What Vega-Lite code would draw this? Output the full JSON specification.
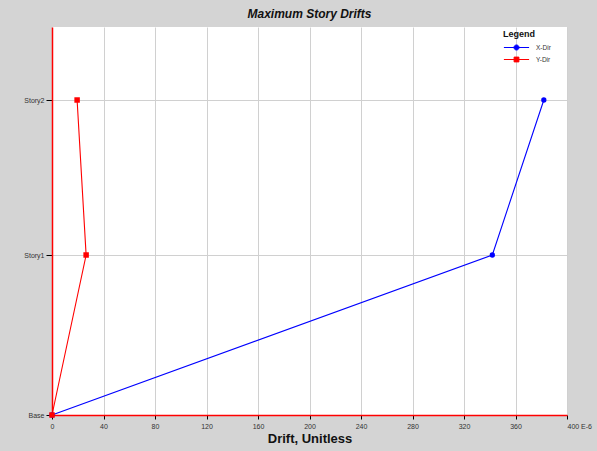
{
  "$schema": "https://vega.github.io/schema/vega-lite/v6.json",
  "width": 515,
  "height": 388,
  "autosize": {"type": "none"},
  "padding": {"left": 52, "top": 27, "right": 30, "bottom": 36},
  "background": "#d4d4d4",
  "config": {
    "font": "Liberation Sans",
    "view": {"fill": "white", "stroke": null}
  },
  "title": {
    "text": "Maximum Story Drifts",
    "font": "Liberation Sans",
    "fontSize": 12,
    "fontWeight": "bold",
    "fontStyle": "italic",
    "color": "#111111",
    "anchor": "middle",
    "offset": 6
  },
  "data": {
    "values": [
      {"story": "Base", "elev": 0, "series": "X-Dir", "drift": 0},
      {"story": "Story1", "elev": 3.2, "series": "X-Dir", "drift": 342},
      {"story": "Story2", "elev": 6.3, "series": "X-Dir", "drift": 382},
      {"story": "Base", "elev": 0, "series": "Y-Dir", "drift": 0},
      {"story": "Story1", "elev": 3.2, "series": "Y-Dir", "drift": 26.5},
      {"story": "Story2", "elev": 6.3, "series": "Y-Dir", "drift": 19.5}
    ]
  },
  "encoding": {
    "x": {
      "field": "drift",
      "type": "quantitative",
      "scale": {"domain": [0, 400], "nice": false, "zero": true},
      "axis": {
        "title": "Drift, Unitless",
        "titleFont": "Liberation Sans",
        "titleFontSize": 13,
        "titleFontWeight": "bold",
        "titleColor": "#111111",
        "titlePadding": 3,
        "values": [0, 40, 80, 120, 160, 200, 240, 280, 320, 360, 400],
        "labelExpr": "datum.value == 400 ? '400 E-6' : datum.label",
        "labelAlign": {"condition": {"test": "datum.value == 400", "value": "left"}, "value": "center"},
        "labelDx": {"condition": {"test": "datum.value == 400", "value": -6}, "value": 0},
        "labelFontSize": 7,
        "labelColor": "#333333",
        "labelPadding": 3,
        "domainColor": "#ff0000",
        "domainWidth": 1.5,
        "tickColor": "#000000",
        "tickSize": 4,
        "gridColor": "#d0d0d0",
        "gridWidth": 1
      }
    },
    "y": {
      "field": "elev",
      "type": "quantitative",
      "scale": {"domain": [0, 7.76], "nice": false, "zero": true},
      "axis": {
        "title": null,
        "values": [0, 3.2, 6.3],
        "labelExpr": "datum.value == 0 ? 'Base' : (datum.value < 5 ? 'Story1' : 'Story2')",
        "labelFontSize": 7,
        "labelColor": "#333333",
        "labelPadding": 2,
        "domainColor": "#ff0000",
        "domainWidth": 1.5,
        "tickColor": "#000000",
        "tickSize": 6,
        "gridColor": "#d0d0d0",
        "gridWidth": 1
      }
    }
  },
  "layer": [
    {
      "mark": {"type": "line", "strokeWidth": 1.1},
      "encoding": {
        "color": {
          "field": "series",
          "type": "nominal",
          "scale": {"domain": ["X-Dir", "Y-Dir"], "range": ["#0000ff", "#ff0000"]},
          "legend": {
            "title": "Legend",
            "orient": "none",
            "legendX": 451,
            "legendY": 3,
            "titleFont": "Liberation Sans",
            "titleFontSize": 9,
            "titleFontWeight": "bold",
            "titleColor": "#111111",
            "titlePadding": 2,
            "labelFont": "Liberation Sans",
            "labelFontSize": 6.5,
            "labelColor": "#333333",
            "labelOffset": 13,
            "rowPadding": 0,
            "symbolSize": 144,
            "symbolStrokeWidth": 1,
            "symbolOffset": 7,
            "encode": {
              "symbols": {
                "update": {
                  "shape": {"signal": "datum.value == 'X-Dir' ? 'M-2.1,0H2.1M0.42,0A0.42,0.42,0,1,1,-0.42,0A0.42,0.42,0,1,1,0.42,0Z' : 'M-2.1,0H2.1M-0.4,-0.4H0.4V0.4H-0.4Z'"},
                  "fill": {"signal": "datum.value == 'X-Dir' ? '#0000ff' : '#ff0000'"},
                  "fillOpacity": {"value": 1}
                }
              }
            }
          }
        },
        "order": {"field": "elev", "type": "quantitative"}
      }
    },
    {
      "transform": [{"filter": "datum.series == 'X-Dir'"}],
      "mark": {"type": "point", "shape": "circle", "filled": true, "color": "#0000ff", "size": 28, "opacity": 1}
    },
    {
      "transform": [{"filter": "datum.series == 'Y-Dir'"}],
      "mark": {"type": "point", "shape": "square", "filled": true, "color": "#ff0000", "size": 30, "opacity": 1}
    }
  ]
}
